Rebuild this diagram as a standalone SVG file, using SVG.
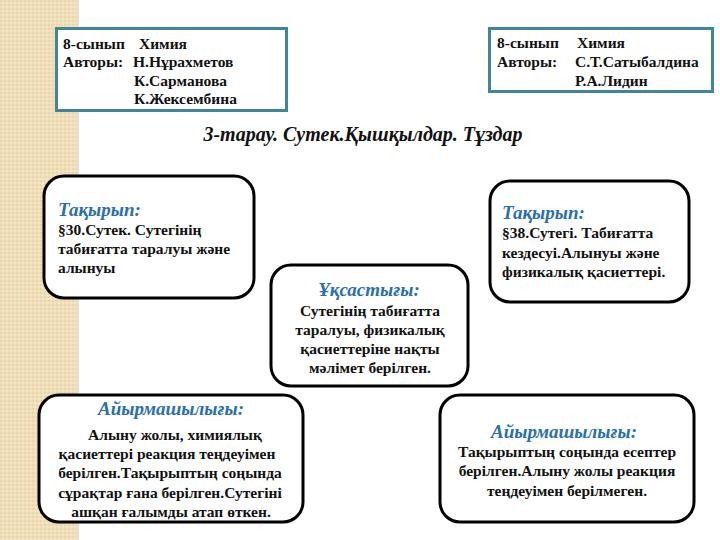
<svg xmlns="http://www.w3.org/2000/svg" width="720" height="540" viewBox="0 0 720 540">
<defs>
<style>
.hdr{fill:#fff;stroke:#3d8797;stroke-width:3}
.nd{fill:#fff;stroke:#000;stroke-width:3}
.t{font-family:'Liberation Serif','DejaVu Serif','Times New Roman',serif;font-weight:bold;font-size:15.5px;fill:#111}
.h{font-family:'Liberation Serif','DejaVu Serif','Times New Roman',serif;font-weight:bold;font-style:italic;font-size:19px;fill:#2a6fae}
.c{text-anchor:middle}
</style>
<pattern id="tex" width="4" height="4" patternUnits="userSpaceOnUse">
<rect width="4" height="4" fill="#f0dfb9"/>
<rect width="2" height="2" fill="#ead6ac"/>
<rect x="2" y="2" width="2" height="2" fill="#f3e5c4"/>
</pattern>
</defs>
<rect width="720" height="540" fill="#fff"/>
<rect x="0" y="0" width="78" height="540" fill="url(#tex)"/>
<rect x="77" y="0" width="2" height="540" fill="#e4e0d8"/>

<g id="header-left">
<rect class="hdr" x="56.5" y="28.5" width="230" height="82"/>
<text class="t" x="63" y="49">8-сынып</text>
<text class="t" x="139" y="49">Химия</text>
<text class="t" x="63" y="67">Авторы:</text>
<text class="t" x="133" y="67">Н.Нұрахметов</text>
<text class="t" x="134" y="86">К.Сарманова</text>
<text class="t" x="134" y="104">К.Жексембина</text>
</g>

<g id="header-right">
<rect class="hdr" x="489.5" y="28.5" width="223" height="63"/>
<text class="t" x="497" y="48">8-сынып</text>
<text class="t" x="577" y="48">Химия</text>
<text class="t" x="497" y="67">Авторы:</text>
<text class="t" x="575" y="67">С.Т.Сатыбалдина</text>
<text class="t" x="575" y="86">Р.А.Лидин</text>
</g>

<g id="title">
<text class="h" x="363" y="141" text-anchor="middle" style="fill:#111;font-size:20px">3-тарау. Сутек.Қышқылдар. Тұздар</text>
</g>

<g id="node-topic-left">
<rect class="nd" x="44" y="176" width="210" height="122" rx="20"/>
<text class="h" x="58" y="216">Тақырып:</text>
<text class="t" x="58" y="235">§30.Сутек. Сутегінің</text>
<text class="t" x="58" y="254">табиғатта таралуы және</text>
<text class="t" x="58" y="273">алынуы</text>
</g>

<g id="node-topic-right">
<rect class="nd" x="490" y="181" width="199" height="121" rx="20"/>
<text class="h" x="502" y="219">Тақырып:</text>
<text class="t" x="502" y="238">§38.Сутегі. Табиғатта</text>
<text class="t" x="502" y="258">кездесуі.Алынуы және</text>
<text class="t" x="502" y="277">физикалық қасиеттері.</text>
</g>

<g id="node-similarity">
<rect class="nd" x="271" y="265" width="197" height="121" rx="20"/>
<text class="h c" x="369" y="296">Ұқсастығы:</text>
<text class="t c" x="370" y="316">Сутегінің табиғатта</text>
<text class="t c" x="370" y="335">таралуы, физикалық</text>
<text class="t c" x="370" y="354">қасиеттеріне нақты</text>
<text class="t c" x="370" y="373">мәлімет берілген.</text>
</g>

<g id="node-diff-left">
<rect class="nd" x="39" y="395" width="264" height="127" rx="20"/>
<text class="h c" x="171" y="415">Айырмашылығы:</text>
<text class="t c" x="175" y="440">Алыну жолы, химиялық</text>
<text class="t c" x="167" y="459">қасиеттері реакция теңдеуімен</text>
<text class="t c" x="170" y="478">берілген.Тақырыптың соңында</text>
<text class="t c" x="170" y="498">сұрақтар ғана берілген.Сутегіні</text>
<text class="t c" x="171" y="517">ашқан ғалымды атап өткен.</text>
</g>

<g id="node-diff-right">
<rect class="nd" x="440" y="395" width="254" height="127" rx="20"/>
<text class="h c" x="564" y="438">Айырмашылығы:</text>
<text class="t c" x="567" y="457">Тақырыптың соңында есептер</text>
<text class="t c" x="567" y="476">берілген.Алыну жолы реакция</text>
<text class="t c" x="567" y="496">теңдеуімен берілмеген.</text>
</g>

<g id="connectors"></g>
</svg>
